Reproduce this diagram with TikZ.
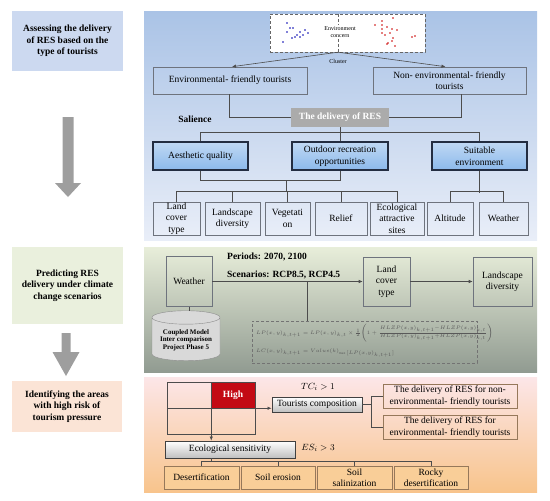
\documentclass[tikz,border=0pt]{standalone}
\usepackage{fontspec}
\setmainfont{Liberation Serif}
\usetikzlibrary{arrows.meta,calc,positioning,shapes.geometric}

\definecolor{taskblue}{RGB}{204,217,240}
\definecolor{taskgreen}{RGB}{234,240,221}
\definecolor{taskpeach}{RGB}{251,228,214}
\definecolor{bluetop}{RGB}{170,195,230}
\definecolor{bluebot}{RGB}{233,238,248}
\definecolor{greentop}{RGB}{232,238,218}
\definecolor{greenbot}{RGB}{145,155,145}
\definecolor{pinktop}{RGB}{252,230,232}
\definecolor{orangebot}{RGB}{248,196,140}
\definecolor{boxline}{RGB}{110,115,125}
\definecolor{keyfill}{RGB}{140,185,235}
\definecolor{keyline}{RGB}{35,45,65}
\definecolor{hotred}{RGB}{195,10,20}
\definecolor{soilfill}{RGB}{249,206,152}
\definecolor{soilline}{RGB}{150,120,90}

\tikzset{
  txt/.style       = {font=\fontsize{9.5}{11.5}\selectfont, align=center, inner sep=0pt},
  boldtxt/.style   = {txt, font=\fontsize{9.5}{11.5}\selectfont\bfseries},
  task/.style      = {boldtxt},
  plainbox/.style  = {txt, draw=boxline, line width=0.6pt},
  keybox/.style    = {txt, draw=keyline, line width=1.3pt, top color=keyfill!55, bottom color=keyfill},
  silverbox/.style = {txt, draw=black!75, line width=0.9pt, top color=white, bottom color=black!25},
  soilbox/.style   = {txt, draw=soilline, line width=0.6pt, fill=soilfill},
  cell/.style      = {draw=black!70, line width=0.5pt, inner sep=0pt, minimum width=44, minimum height=26},
  link/.style      = {line width=0.6pt, draw=black!70},
  arrowlink/.style = {link, -{Latex[length=4pt,width=3.5pt]}},
  bigarrow/.style  = {fill=black!38},
  small/.style     = {font=\fontsize{6}{7}\selectfont, align=center, inner sep=0pt},
  formula/.style   = {anchor=west, inner sep=0pt, text=black!65, font=\fontsize{5.3}{6.5}\selectfont},
}

\begin{document}
\begin{tikzpicture}[x=1pt,y=-1pt]
  \useasboundingbox (0,0) rectangle (550,501);

  % ---------------- left column: the three steps ---------------------------
  \node[task, fill=taskblue, minimum width=111, minimum height=60] (step1) at (67.5,41)
        {Assessing the delivery\\of RES based on the\\type of tourists};
  \node[task, fill=taskgreen, minimum width=111, minimum height=77] (step2) at (67.5,285.5)
        {Predicting RES\\delivery under climate\\change scenarios};
  \node[task, fill=taskpeach, minimum width=110, minimum height=51] (step3) at (67,406.5)
        {Identifying the areas\\with high risk of\\tourism pressure};
  \fill[bigarrow] (62.5,117) -- (73.5,117) -- (73.5,183) -- (81,183) -- (68,197)
        -- (55,183) -- (62.5,183) -- cycle;
  \fill[bigarrow] (61.5,333) -- (70.5,333) -- (70.5,352) -- (79.5,352) -- (66,376)
        -- (52.5,352) -- (61.5,352) -- cycle;

  % ---------------- panel backgrounds --------------------------------------
  \shade[top color=bluetop, bottom color=bluebot] (144,11) rectangle (537,240);
  \shade[top color=greentop, bottom color=greenbot] (144,247) rectangle (537,372);
  \shade[top color=pinktop, bottom color=orangebot] (144,377) rectangle (537,492);

  % ---------------- panel 1: type of tourists ------------------------------
  \node[draw=black!60, densely dashed, fill=white, minimum width=155, minimum height=38,
        inner sep=0pt] (survey) at (347.5,33) {};
  \coordinate (cut) at (338,33);
  \draw[densely dashed, black!60] (survey.north -| cut) -- (survey.south -| cut);
  \foreach \p in {(287,23),(293,28),(290,28),(287,32),(300,32),(305,30),(308,33),(297,35),
                  (300,37),(292,38),(295,37),(283,42),(303,35)}
    \fill[blue!70!black] \p circle (0.8);
  \foreach \p in {(393,18),(382,21),(375,25),(382,25),(387,27),(382,29),(392,29),(397,30),
                  (382,33),(390,33),(385,35),(393,38),(392,41),(388,43),(387,44),(395,46),
                  (412,37),(415,36)}
    \fill[red!80!black] \p circle (0.8);
  \node[small, fill=white, inner sep=1pt] (concern) at (340,32) {Environment\\concern};
  \node[small] (cluster) at (338,61) {Cluster};

  \node[plainbox, minimum width=154, minimum height=27] (envt) at (230,80.5)
        {Environmental- friendly tourists};
  \node[plainbox, minimum width=153, minimum height=27] (nonenvt) at (449.5,80.5)
        {Non- environmental- friendly\\tourists};
  \draw[arrowlink] (survey.south -| cut) -- ([xshift=2]envt.north);
  \draw[arrowlink] (survey.south -| cut) -- ([xshift=-4]nonenvt.north);

  \node[boldtxt, fill=black!33, text=white, minimum width=98, minimum height=19] (deliv)
        at (340,117.5) {The delivery of RES};
  \node[boldtxt] (salience) at (195,119) {Salience};
  \draw[link] ([xshift=-1]envt.south) |- (deliv.west);
  \draw[link] ([xshift=11.5]nonenvt.south) |- (deliv.east);

  \node[keybox, minimum width=95, minimum height=28] (aesth) at (200.5,156) {Aesthetic quality};
  \node[keybox, minimum width=96, minimum height=28] (outdoor) at (340,156)
        {Outdoor recreation\\opportunities};
  \node[keybox, minimum width=95, minimum height=28] (suitable) at (479.5,156)
        {Suitable\\environment};
  \draw[link] (deliv.south) -- (outdoor.north);
  \draw[link] (aesth.north) -- ++(0,-9) -| (suitable.north);

  \node[plainbox, minimum width=47, minimum height=33] (landcov) at (176.5,218.5) {Land\\cover\\type};
  \node[plainbox, minimum width=55, minimum height=33] (landscape) at (232.5,218.5) {Landscape\\diversity};
  \node[plainbox, minimum width=45, minimum height=33] (veget) at (287.5,218.5) {Vegetati\\on};
  \node[plainbox, minimum width=52, minimum height=33] (relief) at (341,218.5) {Relief};
  \node[plainbox, minimum width=54, minimum height=33] (ecoattr) at (397,218.5) {Ecological\\attractive\\sites};
  \node[plainbox, minimum width=46, minimum height=33] (altitude) at (450,218.5) {Altitude};
  \node[plainbox, minimum width=49, minimum height=33] (climate) at (503.5,218.5) {Weather};

  \coordinate (split) at (286,180);
  \draw[link] (aesth.south) -- ++(0,10) -| (outdoor.south);
  \draw[link] (split) -- ++(0,12);
  \draw[link] (landcov.north) -- ++(0,-10) -| (ecoattr.north);
  \foreach \n in {landscape,veget,relief}
    \draw[link] (\n.north) -- ++(0,-10);
  \draw[link] (suitable.south) -- ++(0,22);
  \draw[link] (altitude.north) -- ++(0,-10) -| (climate.north);

  % ---------------- panel 2: climate change --------------------------------
  \node[plainbox, minimum width=46, minimum height=50] (weather) at (189,281.5) {Weather};
  \node[cylinder, shape border rotate=90, draw=black!45, fill=black!15, aspect=0.25,
        minimum width=68, minimum height=50, inner sep=1pt, align=center,
        font=\fontsize{7}{7.5}\selectfont\bfseries] (cmip) at (186,340)
        {Coupled Model\\Inter comparison\\Project Phase 5};
  \draw[link] (weather.south) -- (weather.south |- cmip.north);

  \node[boldtxt, anchor=west] (periods) at (227,257) {Periods: 2070, 2100};
  \node[boldtxt, anchor=west] (scen) at (227,275) {Scenarios: RCP8.5, RCP4.5};
  \node[plainbox, minimum width=47, minimum height=49] (landcovB) at (386.5,281.5) {Land\\cover\\type};
  \node[plainbox, minimum width=59, minimum height=49] (landdiv) at (502.5,281.5) {Landscape\\diversity};
  \draw[arrowlink] (weather.east) -- (landcovB.west);
  \draw[arrowlink] (landcovB.east) -- (landdiv.west);

  \node[draw=black!55, densely dashed, minimum width=225, minimum height=42, inner sep=0pt]
        (formulas) at (364.5,342) {};
  \coordinate (tap) at (307,281.5);
  \draw[link] (tap) -- (tap |- formulas.north);
  \node[formula] (lpf) at (256,333)
        {$LP(x,y)_{k,t+1}=LP(x,y)_{k,t}\times\frac{1}{2}\bigl(1+\frac{HLZP(x,y)_{k,t+1}-HLZP(x,y)_{k,t}}{HLZP(x,y)_{k,t+1}+HLZP(x,y)_{k,t}}\bigr)$};
  \node[formula] (lcf) at (256,353)
        {$LC(x,y)_{k,t+1}=Value(k)_{\max\,[LP(x,y)_{k,t+1}]}$};

  % ---------------- panel 3: tourism pressure ------------------------------
  \node[cell] (cellA) at (189,395) {};
  \node[cell, fill=hotred, text=white, font=\fontsize{9.5}{11.5}\selectfont\bfseries] (cellB) at (233,395) {High};
  \node[cell] (cellC) at (189,421) {};
  \node[cell] (cellD) at (233,421) {};

  \node[silverbox, minimum width=90, minimum height=15] (tourists) at (317,404.5) {Tourists composition};
  \node[txt] (tcrule) at (318,387) {$TC_i > 1$};
  \draw[arrowlink] (cellB.south east) -- (cellB.south east -| tourists.west);

  \node[plainbox, draw=soilline, minimum width=134, minimum height=24] (delivN) at (450,396)
        {The delivery of RES for non-\\environmental- friendly tourists};
  \node[plainbox, draw=soilline, minimum width=134, minimum height=24] (delivE) at (450,427)
        {The delivery of RES for\\environmental- friendly tourists};
  \draw[link] (tourists.east) -- ++(9,0) coordinate (fork);
  \draw[link] (delivN.west) -| (fork) |- (delivE.west);

  \node[silverbox, minimum width=130, minimum height=17] (ecosens) at (230,449.5) {Ecological sensitivity};
  \node[txt] (esrule) at (318,448) {$ES_i > 3$};
  \draw[arrowlink] (cellC.south east) -- (cellC.south east |- ecosens.north);

  \node[soilbox, minimum width=75, minimum height=23] (desert) at (201.5,477.5) {Desertification};
  \node[soilbox, minimum width=74, minimum height=23] (erosion) at (278,477.5) {Soil erosion};
  \node[soilbox, minimum width=75, minimum height=23] (salin) at (354.5,477.5) {Soil\\salinization};
  \node[soilbox, minimum width=74, minimum height=23] (rocky) at (431,477.5) {Rocky\\desertification};
  \draw[link] (ecosens.south -| cellC.south east) -- ++(0,4);
  \draw[link] (desert.north) -- ++(0,-4) -| (rocky.north);
  \foreach \n in {erosion,salin}
    \draw[link] (\n.north) -- ++(0,-4);
\end{tikzpicture}
\end{document}
